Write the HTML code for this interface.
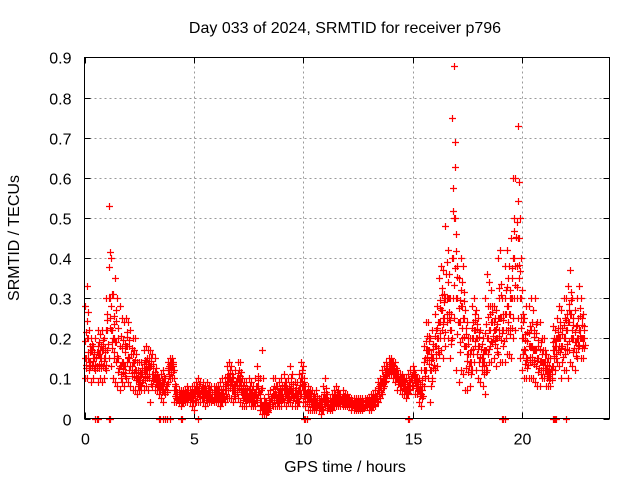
<!DOCTYPE html>
<html><head><meta charset="utf-8"><style>
body{margin:0;background:#fff}
svg{display:block;font-family:"Liberation Sans",sans-serif}
</style></head><body>
<svg id="chart" width="640" height="480">
<text x="345" y="33" text-anchor="middle" font-size="16" fill="#000">Day 033 of 2024, SRMTID for receiver p796</text>
<text x="345" y="472" text-anchor="middle" font-size="16" fill="#000">GPS time / hours</text>
<text transform="translate(19,238) rotate(-90)" text-anchor="middle" font-size="16" fill="#000">SRMTID / TECUs</text>
<g id="grid"></g><g id="ticks"></g><g id="marks"></g>
<rect x="84.5" y="57.5" width="525" height="361" fill="none" stroke="#000"/>
</svg>
<script>
const xTicks=[0,5,10,15,20];
const yTicks=[0,0.1,0.2,0.3,0.4,0.5,0.6,0.7,0.8,0.9];
const yTickLabels=["0","0.1","0.2","0.3","0.4","0.5","0.6","0.7","0.8","0.9"];
const tStart=0, tStep=0.1;
const hiVals=[.28,.33,.22,.2,.18,.2,.22,.21,.22,.2,
.3,.53,.4,.31,.35,.3,.28,.25,.24,.25,
.24,.22,.2,.2,.14,.14,.14,.17,.18,.17,
.17,.16,.15,.11,.1,.11,.12,.1,.14,.15,
.15,.1,.08,.07,.07,.07,.07,.08,.07,.08,
.08,.09,.1,.09,.09,.08,.09,.08,.08,.08,
.08,.08,.09,.1,.1,.13,.14,.13,.1,.12,
.14,.14,.1,.09,.09,.1,.09,.08,.1,.13,
.1,.17,.05,.04,.06,.07,.1,.1,.08,.09,
.1,.11,.09,.1,.13,.11,.09,.09,.11,.14,
.13,.08,.08,.07,.07,.06,.07,.05,.05,.08,
.1,.06,.05,.06,.07,.08,.07,.06,.07,.06,
.06,.05,.05,.05,.05,.05,.05,.05,.05,.05,
.05,.06,.06,.07,.09,.1,.12,.13,.14,.15,
.15,.14,.14,.12,.11,.11,.1,.1,.11,.12,
.13,.11,.1,.1,.12,.18,.24,.24,.2,.22,
.26,.28,.35,.38,.37,.48,.42,.3,.75,.88,
.46,.35,.4,.38,.27,.24,.2,.28,.3,.27,
.25,.22,.2,.3,.36,.34,.32,.28,.27,.4,
.42,.3,.38,.42,.38,.45,.6,.6,.73,.5,
.32,.25,.28,.28,.3,.27,.3,.24,.24,.2,
.2,.16,.15,.15,.23,.22,.25,.28,.27,.3,
.3,.33,.37,.3,.27,.3,.33,.3,.26];
const midVals=[.15,.2,.14,.17,.15,.13,.16,.15,.17,.15,
.22,.3,.22,.2,.19,.15,.13,.14,.13,.18,
.15,.13,.14,.12,.1,.09,.11,.12,.12,.13,
.13,.11,.1,.09,.08,.08,.09,.07,.12,.13,
.13,.07,.05,.05,.05,.05,.06,.06,.06,.05,
.06,.07,.07,.06,.06,.06,.06,.06,.05,.06,
.06,.06,.05,.06,.07,.09,.1,.09,.07,.08,
.1,.09,.06,.06,.06,.06,.05,.05,.06,.08,
.04,.03,.03,.02,.03,.04,.06,.06,.05,.06,
.06,.07,.06,.06,.07,.06,.06,.05,.07,.1,
.07,.05,.05,.05,.04,.04,.04,.03,.03,.05,
.05,.03,.03,.04,.05,.05,.05,.04,.04,.04,
.04,.04,.04,.03,.03,.03,.03,.03,.04,.04,
.04,.04,.04,.05,.07,.08,.09,.1,.12,.13,
.13,.12,.11,.1,.09,.09,.08,.07,.08,.09,
.11,.09,.08,.07,.07,.12,.17,.17,.12,.15,
.18,.2,.24,.27,.25,.3,.3,.22,.4,.5,
.3,.24,.28,.25,.18,.16,.14,.2,.22,.2,
.18,.15,.14,.17,.2,.22,.24,.22,.2,.25,
.25,.22,.26,.28,.26,.3,.4,.38,.45,.3,
.2,.17,.15,.18,.18,.17,.17,.15,.14,.14,
.14,.12,.11,.11,.17,.18,.2,.2,.18,.2,
.22,.24,.26,.2,.19,.2,.22,.2,.2];
const loVals=[.1,.1,.12,.09,.1,.12,.09,.1,.09,.1,
.12,.15,.13,.1,.09,.08,.07,.09,.08,.1,
.09,.08,.07,.07,.06,.07,.07,.07,.08,.07,
.04,.08,.07,.07,.06,.05,.04,.06,.09,.1,
.1,.04,.04,.04,.03,.04,.04,.04,.04,.03,
.02,.04,.04,.04,.04,.03,.04,.04,.04,.04,
.04,.04,.03,.04,.04,.05,.05,.05,.04,.05,
.05,.04,.03,.03,.03,.04,.03,.03,.03,.04,
.02,.01,.01,.01,.02,.03,.03,.03,.03,.03,
.03,.04,.03,.04,.04,.03,.03,.03,.04,.06,
.04,.03,.02,.02,.02,.02,.02,.02,.01,.02,
.03,.02,.02,.02,.03,.03,.03,.03,.03,.03,
.03,.03,.02,.02,.02,.02,.02,.02,.03,.03,
.02,.02,.03,.03,.04,.05,.06,.08,.1,.11,
.11,.1,.09,.07,.07,.06,.06,.05,.06,.07,
.08,.06,.06,.04,.03,.08,.12,.1,.04,.1,
.12,.13,.16,.17,.15,.18,.2,.15,.2,.25,
.12,.09,.12,.11,.07,.07,.08,.12,.14,.12,
.1,.09,.08,.06,.12,.14,.14,.15,.13,.16,
.14,.14,.14,.16,.16,.15,.2,.22,.25,.15,
.12,.1,.1,.1,.1,.1,.09,.08,.08,.1,
.1,.08,.08,.08,.13,.12,.14,.13,.1,.12,
.12,.1,.14,.13,.12,.15,.18,.15,.15];
const zeroTimes=[.5,.55,.6,1.1,1.15,3.4,3.45,3.6,3.7,3.75,3.9,4.4,4.45,5.2,10.05,10.1,10.15,14.8,14.85,19.1,19.15,19.2,21.4,21.45,21.5,21.55,22.0];

const X0=84.5,X1=609.5,Y0=418.5,Y1=57.5,XMAX=24,YMAX=0.9;
function xs(t){return X0+(X1-X0)*t/XMAX;}
function ys(v){return Y0-(Y0-Y1)*v/YMAX;}
const NS="http://www.w3.org/2000/svg";
const grid=document.getElementById('grid'),ticks=document.getElementById('ticks'),marks=document.getElementById('marks');
function mk(tag,attrs,parent){const e=document.createElementNS(NS,tag);for(const k in attrs)e.setAttribute(k,attrs[k]);parent.appendChild(e);return e;}
yTicks.forEach((v,i)=>{
  const y=Math.round(ys(v))+0.5;
  if(i>0&&i<yTicks.length-1){const g=mk('line',{x1:X0,x2:X1,y1:y,y2:y,stroke:'#999','stroke-dasharray':'2,3'},grid);
  
  }
  mk('line',{x1:X0,x2:X0+6,y1:y,y2:y,stroke:'#000'},ticks);
  mk('line',{x1:X1-6,x2:X1,y1:y,y2:y,stroke:'#000'},ticks);
  const t=mk('text',{x:X0-13,y:y+6,'text-anchor':'end','font-size':'16'},ticks);
  t.textContent=yTickLabels[i];
  
  
});
xTicks.forEach((v,i)=>{
  const x=Math.round(xs(v))+0.5;
  if(i>0){const g=mk('line',{x1:x,x2:x,y1:Y0,y2:Y1,stroke:'#999','stroke-dasharray':'2,3'},grid);
  
  }
  mk('line',{x1:x,x2:x,y1:Y0,y2:Y0-6,stroke:'#000'},ticks);
  mk('line',{x1:x,x2:x,y1:Y1,y2:Y1+6,stroke:'#000'},ticks);
  const t=mk('text',{x:x,y:Y0+26,'text-anchor':'middle','font-size':'16'},ticks);
  t.textContent=String(v);
  
  
});
let d='';
function plus(t,v){const x=Math.round(xs(t))+0.5,y=Math.round(ys(v))+0.5;d+=`M${x-3.5} ${y}h7M${x} ${y-3.5}v7`;}
[hiVals,midVals,loVals].forEach(arr=>arr.forEach((v,i)=>{const t=tStart+i*tStep;plus(t,v);plus(t+0.05,(v+midVals[i])/2);}));
hiVals.forEach((v,i)=>{const t=tStart+i*tStep+0.03;plus(t,(v+2*midVals[i])/3);plus(t+0.04,(loVals[i]+2*midVals[i])/3);});
zeroTimes.forEach(t=>plus(t,0));
const p=mk('path',{d:d,stroke:'#f00','stroke-width':'1.2',fill:'none'},marks);


</script>
</body></html>
